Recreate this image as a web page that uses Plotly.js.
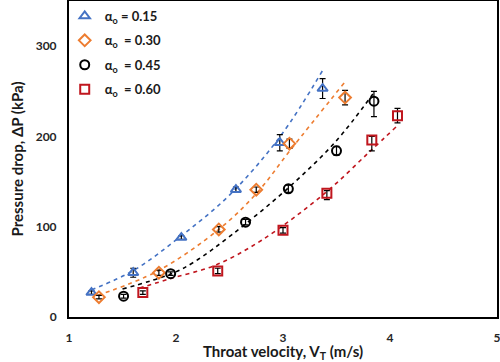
<!DOCTYPE html>
<html>
<head>
<meta charset="utf-8">
<script src="https://cdn.plot.ly/plotly-3.0.1.min.js"></script>
<style>html,body{margin:0;padding:0;background:#fff;}#chart{width:500px;height:362px;}</style>
</head>
<body>
<div id="chart"></div>
<script>
// Measured points (throat velocity m/s, pressure drop kPa, error kPa)
const names = ["α<sub>o</sub> = 0.15", "α<sub>o</sub>  = 0.30", "α<sub>o</sub>  = 0.45", "α<sub>o</sub>  = 0.60"];
const colors = ["#4472C4", "#ED7D31", "#000000", "#C0161E"];
const symbols = ["triangle-up-open", "diamond-open", "circle-open", "square-open"];

const x015 = [1.21, 1.60, 2.05, 2.56, 2.97, 3.37];
const y015 = [27, 49, 88, 141, 193, 253];
const e015 = [2, 5, 2, 3, 9, 11];

const x030 = [1.28, 1.84, 2.40, 2.75, 3.06, 3.58];
const y030 = [22, 49, 97, 141, 192, 243];
const e030 = [2, 3, 3, 3, 5, 8];

const x045 = [1.51, 1.95, 2.65, 3.05, 3.50, 3.85];
const y045 = [23, 48, 105, 142, 184, 239];
const e045up = [2, 2, 3, 4, 5, 11];
const e045dn = [2, 2, 3, 4, 5, 17];

const x060 = [1.69, 2.39, 3.00, 3.41, 3.83, 4.07];
const y060 = [27, 51, 96, 137, 196, 223];
const e060up = [2, 3, 3, 3, 4, 8];
const e060dn = [2, 3, 3, 7, 12, 8];

// Dashed trend lines
const fx015 = [1.21, 1.61, 2.05, 2.50, 2.98, 3.37];
const fy015 = [30, 52, 90, 135, 201, 273];
const fx030 = [1.27, 1.83, 2.41, 2.76, 3.07, 3.59];
const fy030 = [24, 51, 98, 138, 185, 262];
const fx045 = [1.50, 1.96, 2.17, 2.52, 3.04, 3.49, 3.84];
const fy045 = [31, 48, 61, 91, 142, 194, 247];
const fx060 = [1.66, 1.96, 2.36, 2.80, 3.40, 3.80, 4.07];
const fy060 = [32, 43, 57, 85, 138, 182, 212];

const xTicks = [1, 2, 3, 4, 5];
const yTicks = [0, 100, 200, 300];

const pts = [
  [x015, y015, e015, e015],
  [x030, y030, e030, e030],
  [x045, y045, e045up, e045dn],
  [x060, y060, e060up, e060dn]
];
const fits = [[fx015, fy015], [fx030, fy030], [fx045, fy045], [fx060, fy060]];

const traces = [];
for (let i = 0; i < 4; i++) {
  traces.push({
    x: fits[i][0], y: fits[i][1], mode: "lines", type: "scatter",
    line: {color: colors[i], width: 1.6, dash: "4px,4px", shape: "spline", smoothing: 1},
    showlegend: false, hoverinfo: "skip"
  });
}
for (let i = 0; i < 4; i++) {
  traces.push({
    x: pts[i][0], y: pts[i][1], mode: "markers", type: "scatter", name: names[i],
    legendgroup: "g" + i,
    marker: {symbol: symbols[i], size: 9, color: colors[i], line: {width: 2, color: colors[i]}},
    error_y: {type: "data", array: pts[i][2], arrayminus: pts[i][3], symmetric: false,
              color: "#000", thickness: 1.2, width: 3}
  });
}

const fontFam = "Lato, 'Open Sans', sans-serif";
const layout = {
  width: 500, height: 362,
  margin: {l: 69, r: 3, t: 1, b: 45},
  paper_bgcolor: "#fff", plot_bgcolor: "#fff",
  font: {family: fontFam, color: "#262626", size: 12, weight: "bold"},
  showlegend: true,
  legend: {x: -0.01, y: 1.0, xanchor: "left", yanchor: "top",
           font: {family: fontFam, size: 13, color: "#1a1a1a", weight: "bold"},
           bgcolor: "rgba(0,0,0,0)", tracegroupgap: 4.5, itemwidth: 30},
  xaxis: {
    range: [1, 5], tickvals: xTicks, ticktext: xTicks.map(String),
    showgrid: false, zeroline: false, showline: true, mirror: true,
    linecolor: "#000", linewidth: 2, ticks: "", ticklabelstandoff: 9,
    ticklabeloverflow: "allow",
    tickfont: {family: fontFam, size: 12, weight: "bold", color: "#262626"},
    title: {text: "Throat velocity, V<sub>T</sub> (m/s)", standoff: 0,
            font: {family: fontFam, size: 15, weight: "bold", color: "#1a1a1a"}}
  },
  yaxis: {
    range: [0, 350], tickvals: yTicks, ticktext: yTicks.map(String),
    showgrid: false, zeroline: false, showline: true, mirror: true,
    linecolor: "#000", linewidth: 2, ticks: "", ticklabelstandoff: 8,
    tickfont: {family: fontFam, size: 12, weight: "bold", color: "#262626"},
    title: {text: "Pressure drop, ΔP (kPa)", standoff: 8,
            font: {family: fontFam, size: 15, weight: "bold", color: "#1a1a1a"}}
  }
};

Plotly.newPlot("chart", traces, layout, {staticPlot: true, displayModeBar: false});
</script>
</body>
</html>
